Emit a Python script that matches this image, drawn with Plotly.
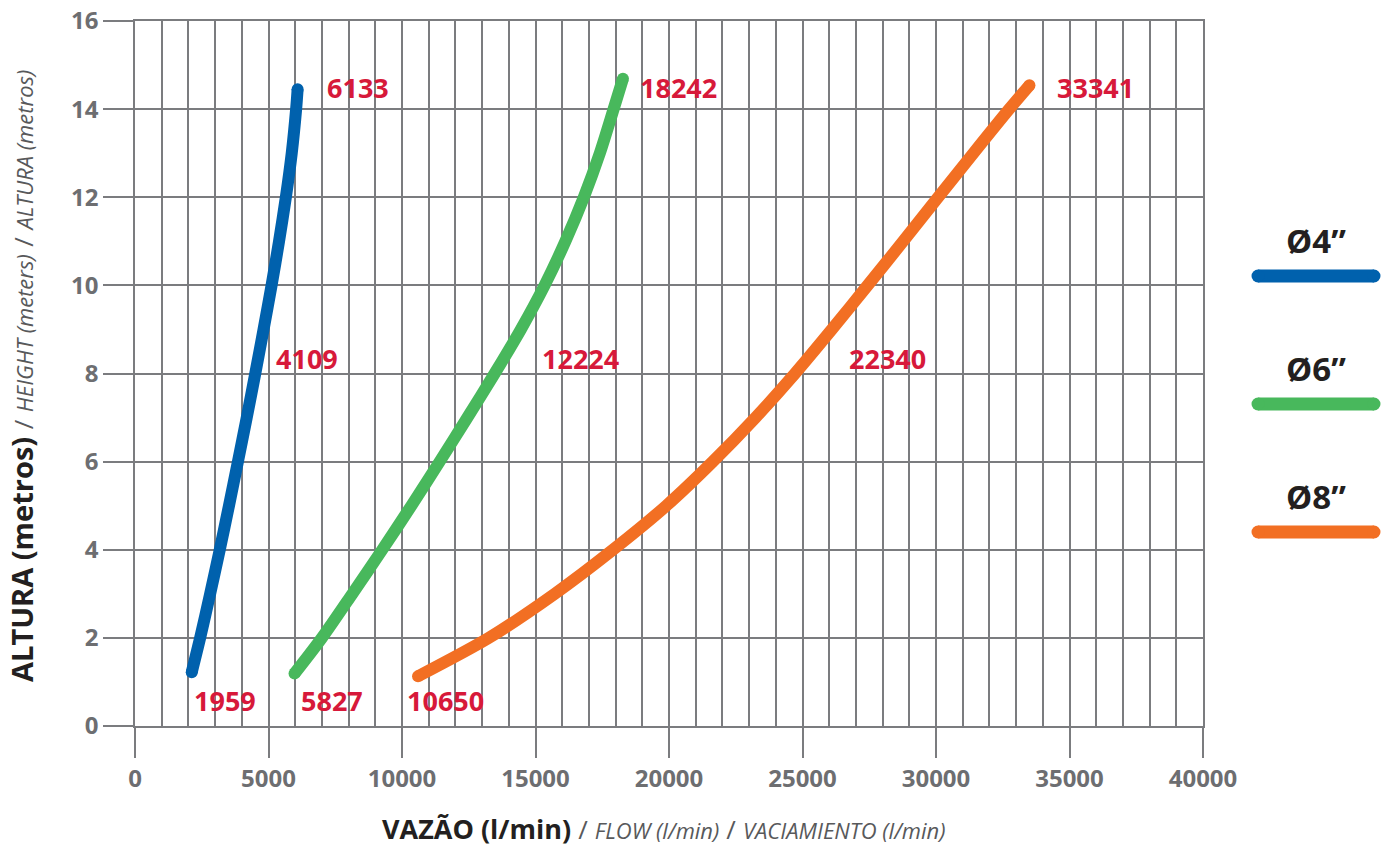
import plotly.graph_objects as go

# ---- data ----
blue_q = [2125, 2440, 2815, 3175, 3520, 3855, 4185, 4505, 4815, 5115, 5395, 5650, 5870, 6035, 6090]
blue_h = [1.22, 2, 3, 4, 5, 6, 7, 8, 9, 10, 11, 12, 13, 14, 14.45]

green_q = [5975, 7000, 8140, 9260, 10350, 11410, 12450, 13470, 14450, 15340, 16120, 16810, 17410, 17925, 18275]
green_h = [1.19, 2, 3, 4, 5, 6, 7, 8, 9, 10, 11, 12, 13, 14, 14.69]

orange_q = [10600, 13250, 15720, 17900, 19900, 21640, 23240, 24720, 26100, 27440, 28770, 30080, 31400, 32740, 33500]
orange_h = [1.13, 2, 3, 4, 5, 6, 7, 8, 9, 10, 11, 12, 13, 14, 14.54]

series_names = ["Ø4”", "Ø6”", "Ø8”"]
series_colors = ["#0061ad", "#48b85c", "#f26f23"]

label_texts = ["6133", "18242", "33341", "4109", "12224", "22340", "1959", "5827", "10650"]
label_x = [7116, 18840, 34457, 5206, 15169, 26667, 2135, 6142, 10112]
label_y = [14.48, 14.48, 14.48, 8.35, 8.35, 8.35, 0.59, 0.59, 0.59]

x_ticks = [0, 5000, 10000, 15000, 20000, 25000, 30000, 35000, 40000]
y_ticks = [0, 2, 4, 6, 8, 10, 12, 14, 16]

GRID = "#7b7c7f"
TICKFONT = dict(family="Open Sans", size=24, color="#6d6e71", weight="bold")
RED = "#d7193a"
LW = 12

fig = go.Figure()
for q, h, name, col in zip([blue_q, green_q, orange_q], [blue_h, green_h, orange_h],
                           series_names, series_colors):
    sizes = [LW] + [0] * (len(q) - 2) + [LW]
    fig.add_trace(go.Scatter(
        x=q, y=h, name=name, mode="lines+markers",
        line=dict(color=col, width=LW, shape="spline", smoothing=0.8),
        marker=dict(size=sizes, color=col, line=dict(width=0), opacity=1),
        showlegend=False, hoverinfo="skip"))

for t, x, y in zip(label_texts, label_x, label_y):
    fig.add_annotation(x=x, y=y, xref="x", yref="y", text=t, showarrow=False,
                       xanchor="left", yanchor="middle",
                       font=dict(family="Open Sans", size=27, color=RED, weight="bold"))

# ---- custom legend on the right ----
L, T, W, H = 135, 21, 1068, 705
def px(xp):
    return (xp - L) / W
def py(yp):
    return (T + H - yp) / H

leg_text_y = [240, 368, 496]
leg_line_y = [276, 404, 532]
for name, col, ty, ly in zip(series_names, series_colors, leg_text_y, leg_line_y):
    fig.add_annotation(x=px(1316), y=py(ty), xref="paper", yref="paper", text=name,
                       showarrow=False, xanchor="center", yanchor="middle",
                       font=dict(family="Open Sans", size=33, color="#231f20", weight="bold"))
    fig.add_shape(type="line", xref="paper", yref="paper",
                  x0=px(1258), x1=px(1374), y0=py(ly), y1=py(ly),
                  line=dict(color=col, width=13))
    r = 6.5
    for cx in (1258, 1374):
        fig.add_shape(type="circle", xref="paper", yref="paper",
                      x0=px(cx - r), x1=px(cx + r), y0=py(ly + r), y1=py(ly - r),
                      fillcolor=col, line=dict(width=0))

SL = "<span style='font-size:26px;color:#58595b'>/</span>"
def it(s):
    return "<i><span style='font-size:22px;color:#58595b'>" + s + "</span></i>"

# ---- axis titles ----
fig.add_annotation(
    x=px(664), y=py(828), xref="paper", yref="paper", showarrow=False,
    xanchor="center", yanchor="middle",
    text="<b>VAZÃO (l/min)</b> " + SL + " " + it("FLOW (l/min)") + " " + SL + " " + it("VACIAMIENTO (l/min)"),
    font=dict(family="Open Sans", size=27, color="#231f20"))

fig.add_annotation(
    x=px(22), y=py(376), xref="paper", yref="paper", showarrow=False,
    xanchor="center", yanchor="middle", textangle=-90,
    text="<b>ALTURA (metros)</b> " + SL + " " + it("HEIGHT (meters)") + " " + SL + " " + it("ALTURA (metros)"),
    font=dict(family="Open Sans", size=29, color="#231f20"))

fig.update_layout(
    width=1390, height=848,
    margin=dict(l=L, r=1390 - L - W, t=T, b=848 - T - H, autoexpand=False),
    paper_bgcolor="white", plot_bgcolor="white",
    xaxis=dict(range=[0, 40000], tickvals=x_ticks, ticktext=[str(v) for v in x_ticks],
               showgrid=True, gridcolor=GRID, gridwidth=1.6,
               minor=dict(dtick=1000, tick0=0, showgrid=True, gridcolor=GRID, gridwidth=1.6),
               ticks="outside", ticklen=30, tickwidth=1.6, tickcolor=GRID,
               tickfont=TICKFONT, zeroline=False, showline=True, mirror=True,
               linecolor=GRID, linewidth=1.6, fixedrange=True, automargin=False),
    yaxis=dict(range=[0, 16], tickvals=y_ticks, ticktext=[str(v) for v in y_ticks],
               showgrid=True, gridcolor=GRID, gridwidth=1.6,
               ticks="outside", ticklen=30, tickwidth=1.6, tickcolor=GRID,
               tickfont=TICKFONT, zeroline=False, showline=True, mirror=True,
               linecolor=GRID, linewidth=1.6, fixedrange=True, automargin=False),
)

fig.write_html("out.html", config={"displayModeBar": False},
               post_script="document.body.style.margin='0';document.body.style.overflow='hidden';")
